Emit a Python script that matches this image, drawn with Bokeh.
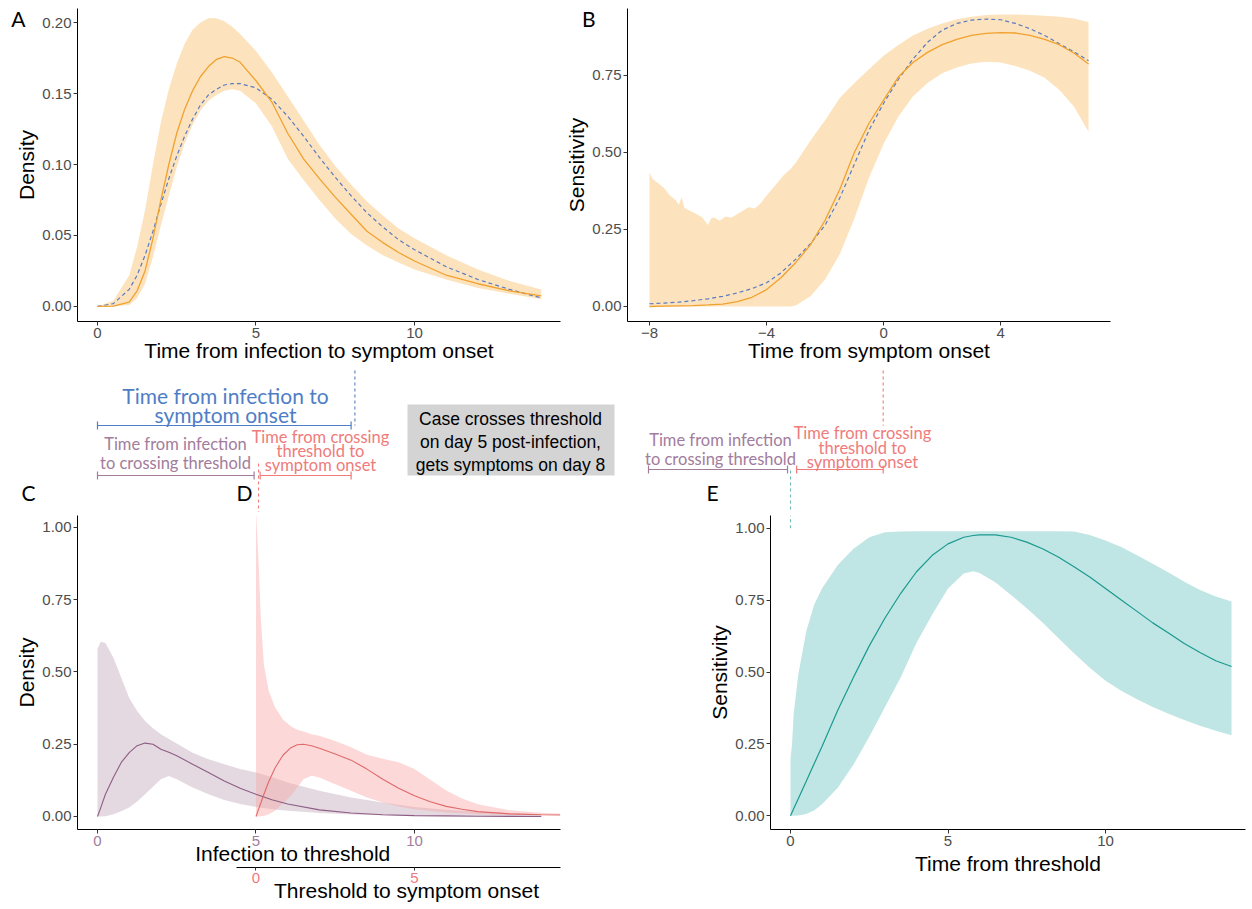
from bokeh.plotting import figure
from bokeh.models import Range1d, LinearAxis, FixedTicker, NumeralTickFormatter
from bokeh.layouts import column, row
from bokeh.embed import file_html
from bokeh.resources import INLINE
from bokeh.core.properties import value

# ---------------------------------------------------------------- data
# Panel A: time from infection to symptom onset (density)
a_t   = [0, 0.5, 1, 1.25, 1.5, 1.75, 2, 2.25, 2.5, 2.75, 3, 3.25, 3.5, 3.75, 4, 4.25, 4.5,
         5, 5.5, 6, 6.5, 7, 7.5, 8, 8.5, 9, 9.5, 10, 11, 12, 13, 14]
a_med = [0, 0.0003, 0.003, 0.011, 0.025, 0.048, 0.075, 0.100, 0.122, 0.139, 0.152, 0.162, 0.169,
         0.174, 0.176, 0.175, 0.172, 0.159, 0.144, 0.122, 0.104, 0.090, 0.077, 0.065, 0.053,
         0.045, 0.038, 0.032, 0.022, 0.016, 0.011, 0.0075]
a_ref = [0, 0.002, 0.012, 0.022, 0.036, 0.053, 0.072, 0.090, 0.106, 0.120, 0.132, 0.142, 0.149,
         0.153, 0.156, 0.157, 0.157, 0.154, 0.146, 0.134, 0.120, 0.105, 0.091, 0.078, 0.066,
         0.056, 0.047, 0.040, 0.028, 0.019, 0.012, 0.006]
a_lo  = [0, 0, 0.001, 0.006, 0.016, 0.035, 0.057, 0.078, 0.098, 0.115, 0.128, 0.138, 0.145,
         0.149, 0.152, 0.153, 0.152, 0.143, 0.127, 0.104, 0.089, 0.075, 0.062, 0.051, 0.043,
         0.036, 0.031, 0.026, 0.019, 0.013, 0.009, 0.005]
a_hi  = [0, 0.004, 0.022, 0.042, 0.068, 0.100, 0.130, 0.153, 0.171, 0.185, 0.195, 0.200, 0.203,
         0.203, 0.201, 0.197, 0.192, 0.180, 0.165, 0.148, 0.131, 0.114, 0.099, 0.086, 0.074,
         0.064, 0.055, 0.048, 0.036, 0.026, 0.018, 0.012]

# Panel B: sensitivity by time from symptom onset
b_t   = [-8, -7.5, -7, -6.5, -6, -5.5, -5, -4.5, -4, -3.5, -3, -2.5, -2, -1.5, -1, -0.5,
         0, 0.5, 1, 1.5, 2, 2.5, 3, 3.5, 4, 4.5, 5, 5.5, 6, 6.5, 7]
b_med = [0, 0.001, 0.002, 0.003, 0.005, 0.008, 0.016, 0.030, 0.055, 0.094, 0.143, 0.200,
         0.280, 0.380, 0.500, 0.595, 0.670, 0.745, 0.792, 0.825, 0.850, 0.867, 0.880, 0.887,
         0.889, 0.888, 0.880, 0.867, 0.850, 0.823, 0.787]
b_ref = [0.009, 0.011, 0.014, 0.019, 0.025, 0.033, 0.044, 0.058, 0.077, 0.110, 0.154, 0.204,
         0.264, 0.352, 0.462, 0.572, 0.660, 0.737, 0.803, 0.858, 0.897, 0.919, 0.930, 0.933,
         0.931, 0.919, 0.902, 0.880, 0.853, 0.827, 0.798]
b_band_t = [-8, -7.9, -7.7, -7.5, -7.3, -7.1, -7.0, -6.9, -6.8, -6.6, -6.4, -6.2, -6.0, -5.9,
            -5.8, -5.6, -5.4, -5.2, -5.0, -4.8, -4.6, -4.4, -4.2, -4.0, -3.8, -3.6, -3.4, -3.2,
            -3.0, -2.5, -2.0, -1.5, -1.0, -0.5, 0, 0.5, 1, 1.5, 2, 2.5, 3, 3.5, 4, 4.5, 5, 5.5,
            6, 6.5, 7]
b_hi  = [0.435, 0.415, 0.400, 0.385, 0.360, 0.345, 0.330, 0.355, 0.320, 0.310, 0.300, 0.290,
         0.265, 0.285, 0.290, 0.278, 0.292, 0.288, 0.300, 0.312, 0.322, 0.318, 0.335, 0.360,
         0.382, 0.405, 0.428, 0.445, 0.467, 0.539, 0.605, 0.677, 0.726, 0.770, 0.814, 0.849,
         0.880, 0.902, 0.919, 0.933, 0.941, 0.946, 0.948, 0.948, 0.946, 0.944, 0.941, 0.935,
         0.924]
b_lo  = [0, 0, 0, 0, 0, 0, 0, 0, 0, 0, 0, 0, 0, 0, 0, 0, 0, 0, 0, 0, 0, 0, 0, 0, 0, 0, 0, 0,
         0.003, 0.033, 0.088, 0.170, 0.286, 0.418, 0.528, 0.616, 0.682, 0.726, 0.757, 0.776,
         0.789, 0.795, 0.792, 0.781, 0.765, 0.743, 0.704, 0.649, 0.567]

# Panel C: infection to crossing threshold (density)
c_t   = [0, 0.1, 0.25, 0.5, 0.75, 1, 1.25, 1.5, 1.75, 2, 2.25, 2.5, 3, 3.5, 4, 4.5, 5, 5.5,
         6, 7, 8, 9, 10, 11, 12, 13, 14]
c_med = [0, 0.030, 0.077, 0.135, 0.187, 0.221, 0.245, 0.254, 0.250, 0.233, 0.222, 0.210,
         0.181, 0.152, 0.123, 0.098, 0.077, 0.058, 0.043, 0.023, 0.012, 0.006, 0.003, 0.002,
         0.001, 0.0005, 0]
c_hi  = [0.58, 0.605, 0.600, 0.550, 0.480, 0.410, 0.365, 0.330, 0.305, 0.285, 0.268, 0.253,
         0.221, 0.198, 0.181, 0.164, 0.152, 0.137, 0.118, 0.089, 0.066, 0.048, 0.033, 0.023,
         0.016, 0.012, 0.008]
c_lo  = [0, 0, 0.001, 0.008, 0.018, 0.031, 0.052, 0.077, 0.103, 0.129, 0.140, 0.129, 0.100,
         0.077, 0.057, 0.043, 0.033, 0.025, 0.020, 0.012, 0.007, 0.004, 0.002, 0.001, 0.001,
         0.001, 0.001]

# Panel D: crossing threshold to symptom onset (density)
d_t   = [0, 0.04, 0.09, 0.15, 0.25, 0.4, 0.6, 0.85, 1.1, 1.3, 1.5, 1.75, 2, 2.5, 3, 3.5, 4,
         4.5, 5, 5.5, 6, 6.5, 7, 8, 9, 9.6]
d_med = [0, 0.012, 0.028, 0.046, 0.077, 0.120, 0.168, 0.212, 0.238, 0.248, 0.250, 0.245,
         0.236, 0.216, 0.195, 0.164, 0.129, 0.098, 0.072, 0.051, 0.035, 0.025, 0.017, 0.009,
         0.006, 0.005]
d_hi  = [1.06, 0.97, 0.86, 0.69, 0.525, 0.435, 0.378, 0.336, 0.312, 0.300, 0.294, 0.285,
         0.279, 0.261, 0.240, 0.214, 0.200, 0.188, 0.164, 0.127, 0.090, 0.062, 0.042, 0.022,
         0.013, 0.010]
d_lo  = [0, 0, 0, 0.001, 0.002, 0.008, 0.020, 0.045, 0.073, 0.100, 0.129, 0.141, 0.135,
         0.112, 0.089, 0.066, 0.048, 0.035, 0.025, 0.019, 0.014, 0.011, 0.008, 0.006, 0.005,
         0.005]

# Panel E: sensitivity by time from threshold
e_t   = [0, 0.05, 0.1, 0.25, 0.5, 0.75, 1, 1.5, 2, 2.5, 3, 3.5, 4, 4.5, 5, 5.5, 5.8, 6, 6.5,
         7, 7.5, 8, 8.5, 9, 9.5, 10, 10.5, 11, 11.5, 12, 12.5, 13, 13.5, 14]
e_med = [0, 0.012, 0.024, 0.060, 0.120, 0.181, 0.241, 0.367, 0.482, 0.591, 0.688, 0.774,
         0.849, 0.906, 0.946, 0.969, 0.975, 0.977, 0.977, 0.969, 0.952, 0.929, 0.900, 0.866,
         0.831, 0.791, 0.751, 0.711, 0.671, 0.636, 0.599, 0.568, 0.539, 0.519]
e_hi  = [0.20, 0.25, 0.355, 0.493, 0.642, 0.734, 0.791, 0.872, 0.929, 0.969, 0.986, 0.989,
         0.990, 0.990, 0.990, 0.990, 0.990, 0.990, 0.990, 0.990, 0.990, 0.990, 0.990, 0.989,
         0.977, 0.958, 0.935, 0.906, 0.877, 0.846, 0.814, 0.785, 0.763, 0.745]
e_lo  = [0, 0, 0, 0.001, 0.006, 0.018, 0.040, 0.097, 0.178, 0.275, 0.378, 0.482, 0.602,
         0.700, 0.791, 0.843, 0.851, 0.845, 0.812, 0.768, 0.722, 0.672, 0.618, 0.565, 0.515,
         0.470, 0.435, 0.405, 0.378, 0.355, 0.333, 0.313, 0.296, 0.280]

# Example case for the middle schematic
THRESH_DAY = 5
SYMPTOM_DAY = 8
box_lines = ["Case crosses threshold", "on day 5 post-infection,", "gets symptoms on day 8"]

# ---------------------------------------------------------------- style
TICK_FONT = "Liberation Sans"
ANN_FONT = "Lato"
ORANGE = "#f0a12e"
ORANGE_FILL = "#fde3bd"
BLUE = "#5a7bc0"
BLUE_TXT = "#4f7ec6"
MAUVE_LINE = "#8d5d84"
MAUVE_FILL = "#b89ab0"
MAUVE_TXT = "#a27c9c"
PINK_LINE = "#e0696b"
PINK_FILL = "#f8a4a2"
SALMON_TXT = "#ef7b7b"
TEAL_LINE = "#1a9990"
TEAL_FILL = "#bfe6e4"
TEAL_DASH = "#6fb8b3"
NBSP = "\u00a0"

# page geometry (page pixels): figure boxes (l, r, t, b) and plot frames
A_BOX, A_FRAME = (0, 562, 0, 368), (77, 560, 8, 321)
B_BOX, B_FRAME = (562, 1250, 0, 368), (626, 1110, 8, 321)
M_BOX = (0, 1250, 368, 512)
C_BOX, C_FRAME = (0, 600, 512, 907), (77, 560, 515, 829)
E_BOX, E_FRAME = (600, 1250, 512, 907), (770, 1245, 512, 830)
A_XR, A_YR = (-0.631, 14.606), (-0.0106, 0.2099)
B_XR, B_YR = (-8.75, 7.75), (-0.0487, 0.9675)
C_YR = (-0.045, 1.0415)
E_XR, E_YR = (-0.635, 14.444), (-0.0481, 1.0447)


def lin(px, p0, p1, v0, v1):
    return v0 + (px - p0) * (v1 - v0) / (p1 - p0)


def make_fig(box, frame, xr, yr):
    bl, br, bt, bb = box
    fl, fr, ft, fb = frame
    p = figure(width=br - bl, height=bb - bt, x_range=Range1d(*xr), y_range=Range1d(*yr),
               min_border_left=fl - bl, min_border_right=br - fr,
               min_border_top=ft - bt, min_border_bottom=bb - fb,
               output_backend="svg", toolbar_location=None)
    p.xgrid.visible = False
    p.ygrid.visible = False
    p.outline_line_color = None
    p.background_fill_color = "white"
    p.border_fill_color = "white"
    return p


def style_axis(ax, label, ticks, tick_color="#4d4d4d", standoff=2, fmt=None,
               tick_size="15px", title_size="21px", tick_out=4, label_standoff=2):
    ax.axis_label = label
    ax.ticker = FixedTicker(ticks=ticks)
    if fmt:
        ax.formatter = NumeralTickFormatter(format=fmt)
    ax.axis_line_color = "black"
    ax.axis_line_width = 1
    ax.major_tick_line_color = "#333333"
    ax.major_tick_in = 0
    ax.major_tick_out = tick_out
    ax.minor_tick_line_color = None
    ax.major_label_text_font = TICK_FONT
    ax.major_label_text_font_size = tick_size
    ax.major_label_text_color = tick_color
    ax.major_label_standoff = label_standoff
    ax.axis_label_text_font = TICK_FONT
    ax.axis_label_text_font_size = title_size
    ax.axis_label_text_font_style = "normal"
    ax.axis_label_text_color = "black"
    ax.axis_label_standoff = standoff


def panel_letter(p, frame, standoff, py, txt):
    """Panel letter drawn as the single tick label of an extra, line-less left axis."""
    fl, fr, ft, fb = frame
    p.extra_y_ranges = {"lab": Range1d(fb, ft)}
    ax = LinearAxis(y_range_name="lab", ticker=FixedTicker(ticks=[py]),
                    major_label_overrides={py: txt})
    ax.axis_line_color = None
    ax.major_tick_line_color = None
    ax.minor_tick_line_color = None
    ax.major_tick_out = 0
    ax.major_tick_in = 0
    ax.major_label_standoff = standoff
    ax.major_label_text_font = ANN_FONT
    ax.major_label_text_font_size = "21px"
    ax.major_label_text_color = "black"
    p.add_layout(ax, "left")


# ---------------------------------------------------------------- panel A
pa = make_fig(A_BOX, A_FRAME, A_XR, A_YR)
pa.varea(x=a_t, y1=a_lo, y2=a_hi, fill_color=ORANGE_FILL)
pa.line(a_t, a_ref, line_color=BLUE, line_width=1.2, line_dash="4 3")
pa.line(a_t, a_med, line_color=ORANGE, line_width=1.3)
style_axis(pa.xaxis[0], "Time from infection to symptom onset", [0, 5, 10], standoff=-2)
style_axis(pa.yaxis[0], "Density", [0, 0.05, 0.10, 0.15, 0.20], standoff=1, fmt="0.00")
panel_letter(pa, A_FRAME, -13, 18, "A")

# ---------------------------------------------------------------- panel B
pb = make_fig(B_BOX, B_FRAME, B_XR, B_YR)
pb.varea(x=b_band_t, y1=b_lo, y2=b_hi, fill_color=ORANGE_FILL)
pb.line(b_t, b_ref, line_color=BLUE, line_width=1.2, line_dash="4 3")
pb.line(b_t, b_med, line_color=ORANGE, line_width=1.3)
style_axis(pb.xaxis[0], "Time from symptom onset", [-8, -4, 0, 4], standoff=-2)
style_axis(pb.yaxis[0], "Sensitivity", [0, 0.25, 0.5, 0.75], standoff=1, fmt="0.00")
panel_letter(pb, B_FRAME, -33, 18, "B")

# ---------------------------------------------------------------- middle schematic
mbl, mbr, mbt, mbb = M_BOX
pm = figure(width=mbr - mbl, height=mbb - mbt,
            x_range=Range1d(lin(mbl, A_FRAME[0], A_FRAME[1], *A_XR),
                            lin(mbr, A_FRAME[0], A_FRAME[1], *A_XR)),
            y_range=Range1d(mbb, mbt), x_axis_type=None, y_axis_type=None,
            min_border_left=0, min_border_right=0, min_border_top=0, min_border_bottom=0,
            output_backend="svg", toolbar_location=None)
pm.extra_x_ranges = {
    "b": Range1d(lin(mbl, B_FRAME[0], B_FRAME[1], *B_XR), lin(mbr, B_FRAME[0], B_FRAME[1], *B_XR)),
    "e": Range1d(lin(mbl, E_FRAME[0], E_FRAME[1], *E_XR), lin(mbr, E_FRAME[0], E_FRAME[1], *E_XR)),
}
pm.xgrid.visible = False
pm.ygrid.visible = False
pm.outline_line_color = None
pm.background_fill_color = "white"
pm.border_fill_color = "white"


def ax_px(px):
    return lin(px, A_FRAME[0], A_FRAME[1], *A_XR)


def bracket(x0, x1, y, color, rng="default"):
    pm.segment(x0=[x0], x1=[x1], y0=[y], y1=[y], line_color=color, line_width=1.2,
               x_range_name=rng)
    pm.segment(x0=[x0, x1], x1=[x0, x1], y0=[y - 4, y - 4], y1=[y + 4, y + 4],
               line_color=color, line_width=1.2, x_range_name=rng)


def vdash(x, y0, y1, color, rng="default"):
    pm.segment(x0=[x], x1=[x], y0=[y0], y1=[y1], line_color=color, line_width=1.1,
               line_dash="3 3", x_range_name=rng)


def txt(pxs, pys, lines, color, size, font=ANN_FONT):
    pm.text(x=[ax_px(v) for v in pxs], y=pys, text=lines, text_font=value(font),
            text_font_size=value(size), text_color=color, text_align="center",
            text_baseline="middle")


# left schematic (panel A / C / D time axis)
vdash(SYMPTOM_DAY + 0.12, 370, 425, BLUE)
txt([225, 225], [395, 414], ["Time from infection to", "symptom onset"], BLUE_TXT, "21px")
bracket(0, SYMPTOM_DAY, 425, BLUE_TXT)
txt([175, 175], [443, 462], ["Time from infection", "to crossing threshold"], MAUVE_TXT, "16.5px")
bracket(0, THRESH_DAY - 0.06, 475, MAUVE_TXT)
txt([320, 320, 320], [436, 450, 464], ["Time from crossing", "threshold to", "symptom onset"],
    SALMON_TXT, "16.5px")
bracket(THRESH_DAY + 0.13, SYMPTOM_DAY, 475, SALMON_TXT)
vdash(THRESH_DAY + 0.08, 463, 512, SALMON_TXT)

# gray explanatory box
pm.quad(left=[ax_px(407)], right=[ax_px(614)], top=[404], bottom=[475],
        fill_color="#d4d4d4", line_color=None)
txt([510, 510, 510], [418, 441, 464], box_lines, "black", "17.5px", font=TICK_FONT)

# right schematic (panel B / E time axis)
vdash(0, 370, 425, SALMON_TXT, rng="b")
txt([720, 720], [439, 458], ["Time from infection", "to crossing threshold"], MAUVE_TXT, "16.5px")
bracket(-SYMPTOM_DAY, -(SYMPTOM_DAY - THRESH_DAY) - 0.26, 469, MAUVE_TXT, rng="b")
txt([862, 862, 862], [432, 447, 461], ["Time from crossing", "threshold to", "symptom onset"],
    SALMON_TXT, "16.5px")
bracket(-(SYMPTOM_DAY - THRESH_DAY) + 0.05, 0, 469, SALMON_TXT, rng="b")
vdash(0, 470, 512, TEAL_DASH, rng="e")

# panel letters of the lower row
txt([28, 244, 712], [492, 492, 492], ["C", "D", "E"], "black", "21px")

# ---------------------------------------------------------------- panel C / D
pc = make_fig(C_BOX, C_FRAME, A_XR, C_YR)
pc.extra_x_ranges = {"d": Range1d(A_XR[0] - THRESH_DAY, A_XR[1] - THRESH_DAY)}
pc.varea(x=c_t, y1=c_lo, y2=c_hi, fill_color=MAUVE_FILL, fill_alpha=0.38)
pc.varea(x=d_t, y1=d_lo, y2=d_hi, fill_color=PINK_FILL, fill_alpha=0.42, x_range_name="d")
pc.line(c_t, c_med, line_color=MAUVE_LINE, line_width=1.1)
pc.line(d_t, d_med, line_color=PINK_LINE, line_width=1.1, x_range_name="d")
style_axis(pc.xaxis[0], "Infection to threshold" + NBSP * 9, [0, 5, 10],
           tick_color=MAUVE_TXT, standoff=-7)
style_axis(pc.yaxis[0], "Density", [0, 0.25, 0.5, 0.75, 1.0], standoff=1, fmt="0.00")
ax_d = LinearAxis(x_range_name="d", bounds=(-0.6, A_XR[1] - THRESH_DAY))
style_axis(ax_d, NBSP * 30 + "Threshold to symptom onset", [0, 5], tick_color=SALMON_TXT,
           standoff=-7, tick_out=3)
pc.add_layout(ax_d, "below")

# ---------------------------------------------------------------- panel E
pe = make_fig(E_BOX, E_FRAME, E_XR, E_YR)
pe.varea(x=e_t, y1=e_lo, y2=e_hi, fill_color=TEAL_FILL)
pe.line(e_t, e_med, line_color=TEAL_LINE, line_width=1.2)
pe.segment(x0=[0], x1=[0], y0=[1.0], y1=[E_YR[1]], line_color=TEAL_DASH, line_width=1.1,
           line_dash="3 3")
style_axis(pe.xaxis[0], "Time from threshold", [0, 5, 10], standoff=3)
style_axis(pe.yaxis[0], "Sensitivity", [0, 0.25, 0.5, 0.75, 1.0], standoff=1, fmt="0.00")

layout = column(row(pa, pb), pm, row(pc, pe))
open("out.html", "w").write(file_html(layout, INLINE))
